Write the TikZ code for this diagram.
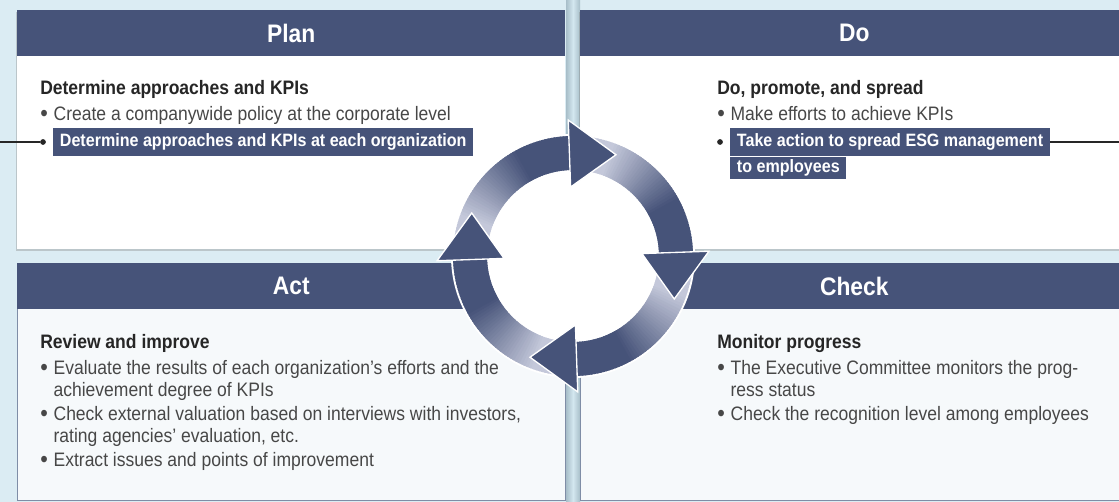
\documentclass[tikz,border=0pt]{standalone}
\usepackage{fontspec}
\setmainfont{Liberation Sans}[FakeStretch=0.9]
\usetikzlibrary{positioning,shadows}

\definecolor{bgblue}{HTML}{DBECF3}
\definecolor{gapmid}{HTML}{D3E7EF}
\definecolor{gapedge}{HTML}{A8BEC9}
\definecolor{hdblue}{HTML}{465379}
\definecolor{ringlight}{HTML}{C4C8DA}
\definecolor{bodyink}{HTML}{262626}
\definecolor{actfill}{HTML}{F6F9FB}
\definecolor{actline}{HTML}{7F8DA6}

\newcommand{\bul}{\makebox[10pt][l]{\raisebox{-0.6pt}{\fontsize{18}{18}\selectfont\textbullet}}}
\newcommand{\nobul}{\hspace*{10pt}}

\begin{document}
\begin{tikzpicture}[
    x=0.75pt, y=0.75pt,
    panel/.style={
        anchor=north west,
        fill=white,
        inner sep=0pt,
        minimum width=411pt
    },
    toppanel/.style={
        panel,
        minimum height=179.25pt,
        drop shadow={shadow xshift=-1.2pt, shadow yshift=-1.5pt, opacity=0.35, fill=gray}
    },
    lowpanel/.style={
        panel,
        fill=actfill,
        draw=actline,
        line width=0.6pt,
        minimum height=177.75pt
    },
    bar/.style={
        anchor=north west,
        fill=hdblue,
        text=white,
        inner sep=0pt,
        minimum width=411pt,
        minimum height=34.5pt,
        font=\fontsize{19}{20}\selectfont\bfseries
    },
    hd/.style={
        anchor=base west,
        inner sep=0pt,
        text=bodyink,
        font=\fontsize{14.6}{16.5}\selectfont\bfseries
    },
    txt/.style={
        anchor=base west,
        inner sep=0pt,
        align=left,
        text=bodyink!85,
        font=\fontsize{14.6}{16.5}\selectfont
    },
    hl/.style={
        fill=hdblue,
        text=white,
        inner xsep=5pt,
        inner ysep=0pt,
        font=\fontsize{13.4}{15}\selectfont\bfseries
    },
    dot/.style={
        circle,
        fill=bodyink,
        inner sep=0pt,
        minimum size=4.3pt
    },
    link/.style={
        draw=bodyink,
        line width=0.8pt
    }
]

\clip (0,0) rectangle (1119,502);
\fill[bgblue] (0,0) rectangle (1119,502);
\shade[left color=gapedge, right color=gapedge, middle color=gapmid] (566,0) rectangle (580,502);

% Panels
\node[toppanel] (plan) at (17,492) {};
\node[bar] (planbar) at (plan.north west) {Plan};
\node[toppanel] (do) at (580,492) {};
\node[bar] (dobar) at (do.north west) {Do};
\node[lowpanel] (act) at (17,239) {};
\node[bar] (actbar) at (act.north west) {Act};
\node[lowpanel] (check) at (580,239) {};
\node[bar] (checkbar) at (check.north west) {Check};

% Plan text
\node[hd] (planhd) at (40,407) {Determine approaches and KPIs};
\node[txt] (planb1) at (40,381) {\bul Create a companywide policy at the corporate level};
\node[dot] (pldot) at (43,360) {};
\node[hl, anchor=west, minimum height=21pt] (planhl) at (53,360) {Determine approaches and KPIs at each organization};
\coordinate (planin) at (0,360);
\draw[link] (planin) -- (pldot);

% Do text
\node[hd] (dohd) at (717,407) {Do, promote, and spread};
\node[txt] (dob1) at (717,381) {\bul Make efforts to achieve KPIs};
\node[dot] (dodot) at (720,360) {};
\node[hl, anchor=west, minimum height=21pt] (dohl1) at (730,360) {Take action to spread ESG management};
\node[hl, below=0pt of dohl1.south west, anchor=north west, minimum height=17pt] (dohl2) {to employees};
\coordinate (doout) at (1119,360);
\draw[link] (dohl1) -- (doout);

% Act text (base = last line)
\node[hd] (acthd) at (40,153) {Review and improve};
\node[txt] (actb) at (40,35) {\bul Evaluate the results of each organization’s efforts and the\\
    \nobul achievement degree of KPIs\\[1.5pt]
    \bul Check external valuation based on interviews with investors,\\
    \nobul rating agencies’ evaluation, etc.\\[1.5pt]
    \bul Extract issues and points of improvement};

% Check text (base = last line)
\node[hd] (checkhd) at (717,153) {Monitor progress};
\node[txt] (checkb) at (717,81) {\bul The Executive Committee monitors the prog-\\
    \nobul ress status\\[1.5pt]
    \bul Check the recognition level among employees};

% PDCA ring
\coordinate (ringc) at (573,246);
\begin{scope}[shift={(ringc)}]
    \fill[white] (0,0) circle[radius=122];
    \foreach \b in {92,2,-88,-178}{
        \foreach \i in {0,...,59}{
            \pgfmathsetmacro\sa{\b+90-1.5*\i}
            \pgfmathsetmacro\ea{\sa-2.5}
            \pgfmathtruncatemacro\p{max(0,min(100,(\i-14)*3.6))}
            \fill[hdblue!\p!ringlight] ({\sa}:86) arc[start angle=\sa, end angle=\ea, radius=86]
                -- ({\ea}:120) arc[start angle=\ea, end angle=\sa, radius=120] -- cycle;
        }
    }
    \foreach \b in {92,2,-88,-178}{
        \filldraw[fill=hdblue, draw=white, line width=1pt, line join=miter]
            ({\b}:69) -- ({\b}:136) -- ({\b-25}:110) -- cycle;
    }
\end{scope}

\end{tikzpicture}
\end{document}
